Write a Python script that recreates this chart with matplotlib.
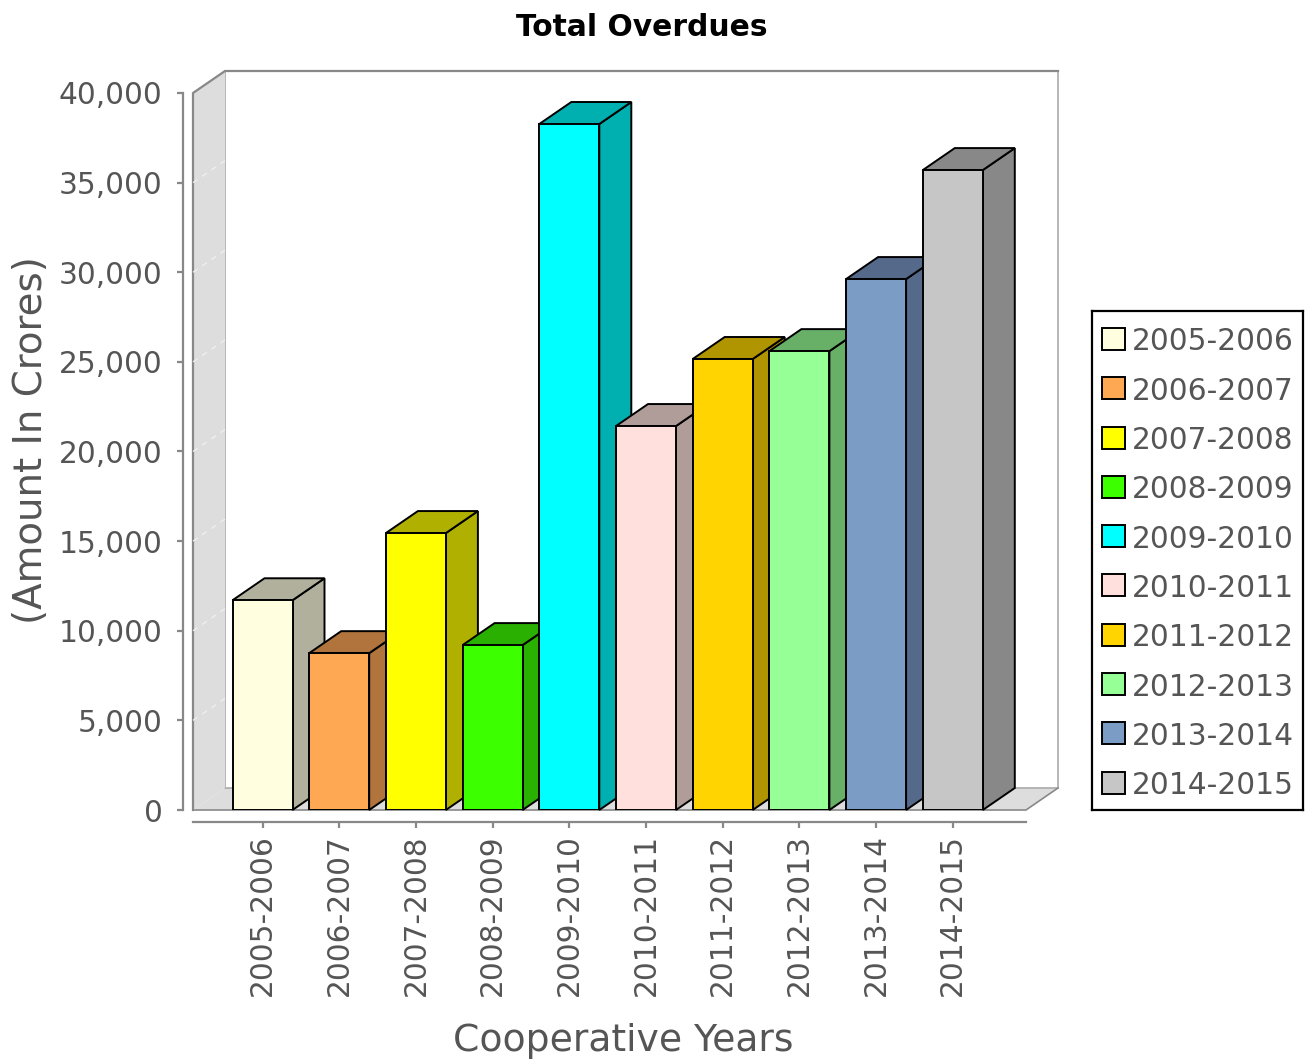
import matplotlib
matplotlib.use('Agg')
import matplotlib.pyplot as plt
from matplotlib.patches import Polygon, Rectangle

# Data
years = ['2005-2006', '2006-2007', '2007-2008', '2008-2009', '2009-2010',
         '2010-2011', '2011-2012', '2012-2013', '2013-2014', '2014-2015']
overdues = [11700, 8750, 15450, 9200, 38270, 21420, 25160, 25600, 29620, 35700]
colors = ['#ffffe0', '#ffa854', '#ffff00', '#3cff00', '#00ffff',
          '#ffe0dc', '#ffd400', '#96ff96', '#7b9cc4', '#c6c6c6']
side_colors = ['#b0b09c', '#b0743c', '#b0b000', '#2ab000', '#00b0b0',
               '#b09c98', '#b09400', '#68b068', '#55698a', '#888888']
y_ticks = [0, 5000, 10000, 15000, 20000, 25000, 30000, 35000, 40000]

W, H = 1305, 1062
text_color = '#555555'
wall_color = '#dddddd'
line_color = '#888888'

fig = plt.figure(figsize=(W / 100, H / 100), dpi=100)
ax = fig.add_axes([193 / W, 1 - 810 / H, (1026 - 193) / W, (810 - 93) / H])

# scales: category pitch 76.7 px, 717 px for 40,000
ax.set_ylim(0, 40000)
ax.set_xlim((193 - 262.5) / 76.7, (1026 - 262.5) / 76.7)
dx = 32 / 76.7
dy = 22 * 40000 / 717
x0, x1 = ax.get_xlim()

# back wall, left wall, floor
ax.add_patch(Polygon([(x0, 0), (x0 + dx, dy), (x1 + dx, dy), (x1, 0)],
                     fc=wall_color, ec='none', clip_on=False, zorder=1))
ax.add_patch(Polygon([(x0 + dx, dy), (x0 + dx, 40000 + dy), (x1 + dx, 40000 + dy), (x1 + dx, dy)],
                     fc='white', ec='#aaaaaa', lw=1.2, clip_on=False, zorder=1))
ax.add_patch(Polygon([(x0, 0), (x0, 40000), (x0 + dx, 40000 + dy), (x0 + dx, dy)],
                     fc=wall_color, ec='none', clip_on=False, zorder=1))
ax.plot([x0, x0, x0 + dx, x1 + dx], [0, 40000, 40000 + dy, 40000 + dy],
        color=line_color, lw=1.6, clip_on=False, zorder=1.5)
ax.plot([x0, x1, x1 + dx], [0, 0, dy], color=line_color, lw=1.2, clip_on=False, zorder=1.5)

# white gridlines on the left wall
for t in y_ticks[1:-1]:
    ax.plot([x0, x0 + dx], [t, t + dy], color='#efefef', lw=1, ls=(0, (4, 4)),
            clip_on=False, zorder=1.6)

# bars with their 3d faces
pos = list(range(len(years)))
widths = 60 / 76.7
ax.bar(pos, overdues, width=widths, color=colors, edgecolor='black', lw=1.4, zorder=3)
for i, v in enumerate(overdues):
    l = i - widths / 2
    r = i + widths / 2
    ax.add_patch(Polygon([(r, 0), (r + dx, dy), (r + dx, v + dy), (r, v)],
                         fc=side_colors[i], ec='black', lw=1.4, clip_on=False, zorder=2.5))
    ax.add_patch(Polygon([(l, v), (l + dx, v + dy), (r + dx, v + dy), (r, v)],
                         fc=side_colors[i], ec='black', lw=1.4, clip_on=False, zorder=2.5))

# axes
for s in ['top', 'right']:
    ax.spines[s].set_visible(False)
ax.spines['left'].set_position(('outward', 7))
ax.spines['bottom'].set_position(('outward', 8.5))
ax.spines['left'].set_color(line_color)
ax.spines['bottom'].set_color(line_color)
ax.spines['left'].set_linewidth(1.6)
ax.spines['bottom'].set_linewidth(1.6)
ax.patch.set_visible(False)

ax.set_yticks(y_ticks)
ax.set_yticklabels([f'{t:,}' for t in y_ticks])
ax.set_xticks(pos)
ax.set_xticklabels(years, rotation=90)
ax.tick_params(axis='both', labelsize=21.3, labelcolor=text_color, color=line_color,
               width=1.6, length=4)
ax.tick_params(axis='y', pad=11)
ax.tick_params(axis='x', pad=5)

fig.text(623 / W, 1 - 1041 / H, 'Cooperative Years', fontsize=27.2, color=text_color,
         ha='center', va='center')
fig.text(31 / W, 1 - 440 / H, '(Amount In Crores)', fontsize=27.9, color=text_color,
         rotation=90, ha='center', va='center')
fig.text(642 / W, 1 - 28 / H, 'Total Overdues', fontsize=21.4, fontweight='bold',
         color='black', ha='center', va='center')

# legend box
leg = fig.add_axes([1092 / W, 1 - 810 / H, (1303 - 1092) / W, (810 - 311) / H])
leg.set_xlim(1092, 1303)
leg.set_ylim(810, 311)
leg.set_xticks([])
leg.set_yticks([])
for s in leg.spines.values():
    s.set_linewidth(1.6)
for i, (name, c) in enumerate(zip(years, colors)):
    row = 339 + 49.3 * i
    leg.add_patch(Rectangle((1102, row - 11), 23, 22, fc=c, ec='black', lw=1.4))
    leg.text(1132, row + 3, name, fontsize=21.3, color=text_color, ha='left', va='center')

fig.savefig('out.png', dpi=100)
